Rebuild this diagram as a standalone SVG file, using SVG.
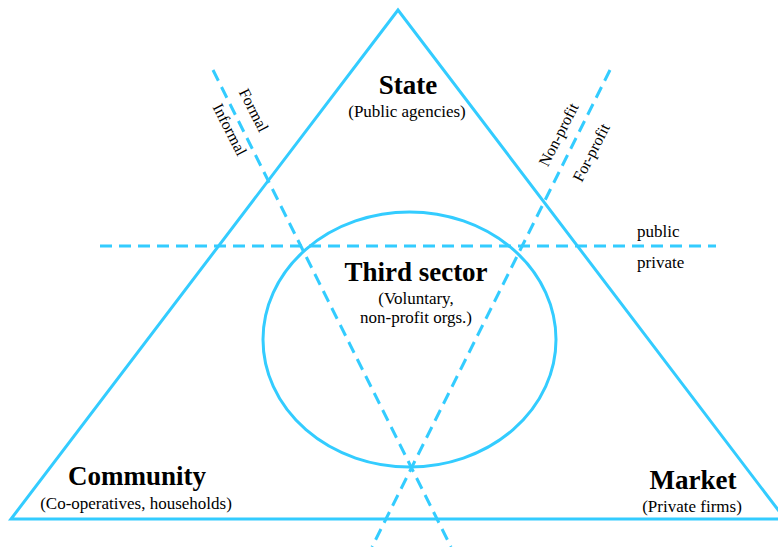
<svg xmlns="http://www.w3.org/2000/svg" width="778" height="547" viewBox="0 0 778 547">
<style>
.shape{fill:none;stroke:#33ccff;stroke-width:3}
.dash{fill:none;stroke:#33ccff;stroke-width:3;stroke-dasharray:12 7}
text{font-family:"Liberation Serif","Times New Roman",serif;fill:#000}
.big{font-size:27px;font-weight:bold;text-anchor:middle}
.sub{font-size:17px;text-anchor:middle}
.sm{font-size:17px}
.rot{font-size:16px;text-anchor:middle}
</style>
<rect width="778" height="547" fill="#fff"/>
<g id="triangle"><polygon class="shape" points="398,10 11,519 785,519"/></g>
<g id="ellipse"><ellipse class="shape" cx="409.5" cy="339.5" rx="146.5" ry="127.5"/></g>
<g id="connectors">
<line class="dash" x1="100" y1="246" x2="716" y2="246"/>
<line class="dash" x1="213" y1="70" x2="451" y2="547"/>
<line class="dash" x1="610" y1="70" x2="372" y2="547"/>
</g>
<g id="state"><text class="big" x="408" y="94">State</text><text class="sub" x="407" y="117">(Public agencies)</text></g>
<g id="third"><text class="big" x="416" y="281">Third sector</text><text class="sub" x="416" y="304">(Voluntary,</text><text class="sub" x="416" y="323">non-profit orgs.)</text></g>
<g id="community"><text class="big" x="137" y="485">Community</text><text class="sub" x="136" y="509">(Co-operatives, households)</text></g>
<g id="market"><text class="big" x="693" y="489">Market</text><text class="sub" x="692" y="512">(Private firms)</text></g>
<g id="labels">
<text class="sm" x="637" y="237">public</text>
<text class="sm" x="637" y="268">private</text>
<text class="rot" transform="translate(249,112.5) rotate(63)">Formal</text>
<text class="rot" transform="translate(225,132) rotate(63)">Informal</text>
<text class="rot" transform="translate(563.4,137) rotate(-63)">Non-profit</text>
<text class="rot" transform="translate(596,155) rotate(-63)">For-profit</text>
</g>
</svg>
